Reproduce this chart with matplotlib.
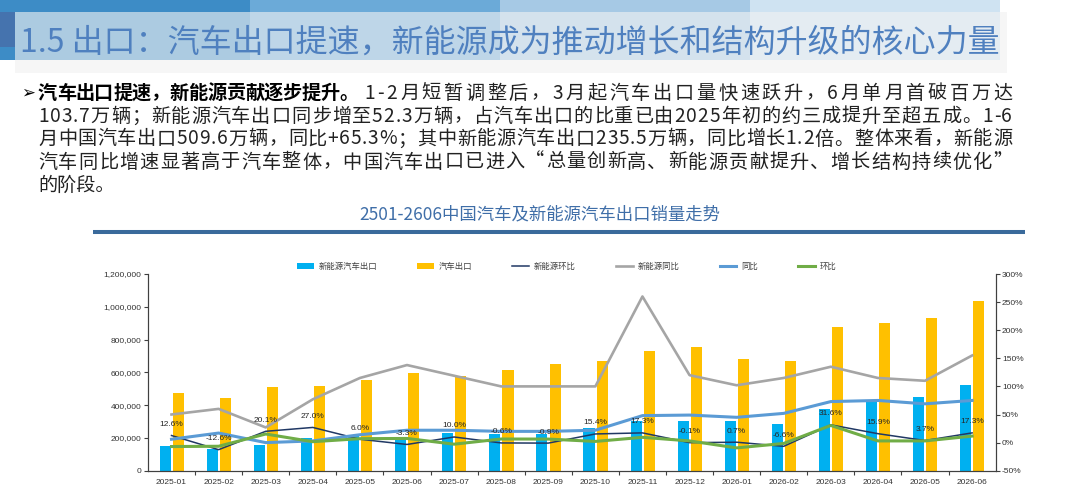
import numpy as np
import matplotlib.pyplot as plt
from matplotlib.patches import Rectangle
from matplotlib.ticker import FuncFormatter
from matplotlib.font_manager import FontProperties

plt.rcParams['font.family'] = ['Noto Sans CJK SC', 'DejaVu Sans']

# ---- data ----
months = ['2025-01', '2025-02', '2025-03', '2025-04', '2025-05', '2025-06',
          '2025-07', '2025-08', '2025-09', '2025-10', '2025-11', '2025-12',
          '2026-01', '2026-02', '2026-03', '2026-04', '2026-05', '2026-06']
nev_export = [150500, 132000, 158600, 201000, 213000, 206000, 227000, 226000, 224000,
              258000, 302000, 302000, 304000, 284000, 374000, 433000, 449000, 523000]
car_export = [471900, 441000, 508500, 516600, 553000, 594000, 577600, 614000, 653000,
              667000, 730000, 752500, 681000, 671000, 876600, 903000, 929500, 1037000]
nev_mom = [12.6, -12.6, 20.1, 27.0, 6.0, -3.3, 10.0, -0.6, -0.9,
           15.4, 17.3, -0.1, 0.7, -6.6, 31.6, 15.9, 3.7, 17.3]
nev_yoy = [50, 60, 27, 77, 115, 138, 119, 100, 100,
           100, 260, 120, 102, 115, 135, 115, 110, 155]
car_yoy = [6, 17, 0, 3, 14, 22, 22, 20, 20,
           22, 48, 49, 45, 52, 73, 75, 69, 75]
car_mom = [-7.0, -6.5, 15.3, 1.6, 7.0, 7.4, -2.8, 6.4, 6.3,
           2.1, 9.4, 3.0, -9.4, -1.5, 30.6, 3.0, 3.0, 11.6]

title = '1.5 出口：汽车出口提速，新能源成为推动增长和结构升级的核心力量'
bold_lead = '汽车出口提速，新能源贡献逐步提升。'
para_lines = ['1-2月短暂调整后，3月起汽车出口量快速跃升，6月单月首破百万达',
              '103.7万辆；新能源汽车出口同步增至52.3万辆，占汽车出口的比重已由2025年初的约三成提升至超五成。1-6',
              '月中国汽车出口509.6万辆，同比+65.3%；其中新能源汽车出口235.5万辆，同比增长1.2倍。整体来看，新能源',
              '汽车同比增速显著高于汽车整体，中国汽车出口已进入“总量创新高、新能源贡献提升、增长结构持续优化”',
              '的阶段。']
chart_title = '2501-2606中国汽车及新能源汽车出口销量走势'
legend_labels = ['新能源汽车出口', '汽车出口', '新能源环比', '新能源同比', '同比', '环比']

fig = plt.figure(figsize=(10.8, 4.99), dpi=100)
renderer = fig.canvas.get_renderer()

# background layer in pixel coords
bg = fig.add_axes([0, 0, 1, 1])
bg.set_xlim(0, 1080)
bg.set_ylim(499, 0)
bg.axis('off')

band_cols = ['#3d8cc6', '#6baad8', '#a6c9e5', '#cfe3f2']
for i, c in enumerate(band_cols):
    bg.add_patch(Rectangle((i * 250, 0), 250, 60, color=c, lw=0))
bg.add_patch(Rectangle((0, 12), 15, 35, color='#4573ae', lw=0))
bg.add_patch(Rectangle((15, 12), 992, 61, color='#f2f2f2', alpha=0.62, lw=0))
bg.text(20, 43, title, fontsize=23.0, color='#4f80bf', va='center')


def text_w(s, prop):
    # advance width of s in pixels (measured against a trailing marker glyph)
    w1 = renderer.get_text_width_height_descent(s + '口', prop, ismath=False)[0]
    w0 = renderer.get_text_width_height_descent('口', prop, ismath=False)[0]
    return w1 - w0


def justified(x0, x1, y, s, size, weight='normal', color='#222222'):
    prop = FontProperties(family=['Noto Sans CJK SC', 'DejaVu Sans'], size=size, weight=weight)
    gap = (x1 - x0 - text_w(s, prop)) / (len(s) - 1)
    for i, ch in enumerate(s):
        bg.text(x0 + text_w(s[:i], prop) + i * gap, y, ch, fontproperties=prop,
                va='center', color=color)


# paragraph
fs = 13.8
bg.text(21, 93, '➢', fontsize=12, va='center', family='DejaVu Sans', color='black')
justified(38, 358, 93, bold_lead, fs, weight='bold', color='black')
justified(364, 1012, 93, para_lines[0], fs)
for i, line in enumerate(para_lines[1:4]):
    justified(38, 1012, 116 + i * 23, line, fs)
bg.text(38, 185, para_lines[4], fontsize=fs, va='center', color='#222222')

bg.text(540, 214, chart_title, ha='center', va='center', fontsize=12.5, color='#3f6ea8')
bg.plot([93, 1025], [231.7, 231.7], color='#3a6a9b', lw=2.9, solid_capstyle='butt')

# ---- chart ----
ax = fig.add_axes([0.137, 0.0567, 0.7849, 0.3942])
ax.set_zorder(2)
ax.patch.set_alpha(0)
x = np.arange(len(months))

b1 = ax.bar(x - 0.135, nev_export, 0.235, color='#00B0F0')
b2 = ax.bar(x + 0.145, car_export, 0.235, color='#FFC000')
ax.set_xlim(-0.5, len(months) - 0.5)
ax.set_ylim(0, 1200000)
ax.set_yticks(range(0, 1200001, 200000))
ax.yaxis.set_major_formatter(FuncFormatter(lambda v, p: f'{int(v):,}'))
ax.set_xticks(x)
ax.set_xticklabels(months)
ax.set_xticks(np.arange(0.5, len(months) - 1, 1), minor=True)

ax2 = ax.twinx()
ax2.set_ylim(-50, 300)
ax2.set_yticks(range(-50, 301, 50))
ax2.yaxis.set_major_formatter(FuncFormatter(lambda v, p: f'{int(v)}%'))

l1, = ax2.plot(x, nev_mom, color='#203864', lw=1.1)
l2, = ax2.plot(x, nev_yoy, color='#A5A5A5', lw=1.9)
l3, = ax2.plot(x, car_yoy, color='#5B9BD5', lw=2.2)
l4, = ax2.plot(x, car_mom, color='#70AD47', lw=2.2)

for xi, v in zip(x, nev_mom):
    ax2.annotate(f'{v:.1f}%', (xi, v), xytext=(0, 8), textcoords='offset points',
                 ha='center', va='center', fontsize=6, family='Liberation Sans', color='#262626')

for a in (ax, ax2):
    a.spines['top'].set_visible(False)
    for s in ('left', 'right', 'bottom'):
        a.spines[s].set_color('#404040')
        a.spines[s].set_linewidth(0.8)
ax.tick_params(axis='y', length=3, width=0.8, pad=1.5, labelsize=6,
               labelfontfamily='Liberation Sans', color='#404040', labelcolor='#333333')
ax2.tick_params(axis='y', length=3, width=0.8, pad=1.5, labelsize=6,
                labelfontfamily='Liberation Sans', color='#404040', labelcolor='#333333')
ax.tick_params(axis='x', which='major', length=0, pad=6, labelsize=6,
               labelfontfamily='Liberation Sans', labelcolor='#333333')
ax.tick_params(axis='x', which='minor', length=3, width=0.8, color='#404040')

fig.legend([b1, b2, l1, l2, l3, l4], legend_labels, loc='center left',
           bbox_to_anchor=(297 / 1080, 1 - 266 / 499), ncol=6, frameon=False,
           fontsize=6, handlelength=2.0, handletextpad=0.6, columnspacing=4.8,
           borderpad=0, borderaxespad=0, labelcolor='#404040')

fig.savefig('out.png', dpi=100)
